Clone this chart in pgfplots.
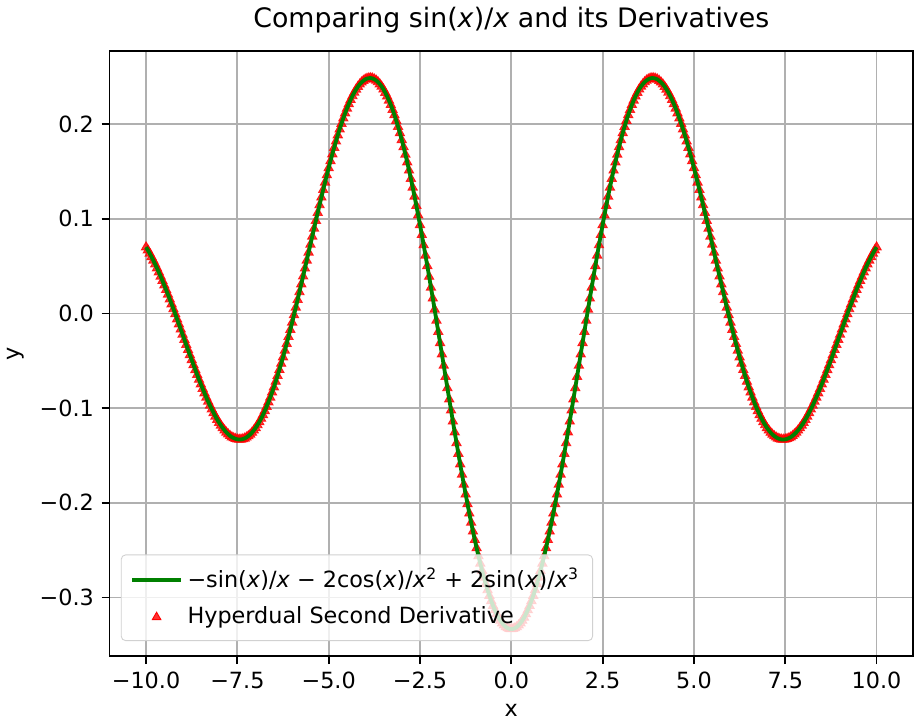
\documentclass[border=0pt]{standalone}
\usepackage{fontspec}
\setmainfont{DejaVu Sans}
\usepackage{pgfplots}
\usepackage{pgfplotstable}
\pgfplotsset{compat=1.18}
\definecolor{mplgreen}{HTML}{008000}
\definecolor{gridgray}{HTML}{B0B0B0}
\pgfplotsset{
  longline legend/.style={legend image code/.code={\draw[##1] (0pt,0pt) -- (22pt,0pt);}},
  dot legend/.style={legend image code/.code={\draw[##1] plot coordinates {(11pt,0pt)};}},
}

% second derivative of sin(x)/x, read at steps of 0.05
\pgfplotstableread{
x y
-10.00 0.0701
-9.95 0.0669
-9.90 0.0634
-9.85 0.0598
-9.80 0.0560
-9.75 0.0520
-9.70 0.0479
-9.65 0.0436
-9.60 0.0391
-9.55 0.0345
-9.50 0.0298
-9.45 0.0250
-9.40 0.0201
-9.35 0.0150
-9.30 0.0099
-9.25 0.0047
-9.20 -0.0006
-9.15 -0.0060
-9.10 -0.0113
-9.05 -0.0167
-9.00 -0.0222
-8.95 -0.0276
-8.90 -0.0330
-8.85 -0.0384
-8.80 -0.0438
-8.75 -0.0491
-8.70 -0.0544
-8.65 -0.0596
-8.60 -0.0647
-8.55 -0.0698
-8.50 -0.0747
-8.45 -0.0795
-8.40 -0.0841
-8.35 -0.0887
-8.30 -0.0930
-8.25 -0.0972
-8.20 -0.1012
-8.15 -0.1050
-8.10 -0.1087
-8.05 -0.1121
-8.00 -0.1153
-7.95 -0.1182
-7.90 -0.1209
-7.85 -0.1234
-7.80 -0.1256
-7.75 -0.1275
-7.70 -0.1292
-7.65 -0.1306
-7.60 -0.1316
-7.55 -0.1324
-7.50 -0.1329
-7.45 -0.1331
-7.40 -0.1330
-7.35 -0.1326
-7.30 -0.1319
-7.25 -0.1308
-7.20 -0.1294
-7.15 -0.1278
-7.10 -0.1258
-7.05 -0.1234
-7.00 -0.1208
-6.95 -0.1178
-6.90 -0.1146
-6.85 -0.1110
-6.80 -0.1071
-6.75 -0.1029
-6.70 -0.0985
-6.65 -0.0937
-6.60 -0.0887
-6.55 -0.0833
-6.50 -0.0778
-6.45 -0.0719
-6.40 -0.0658
-6.35 -0.0595
-6.30 -0.0529
-6.25 -0.0461
-6.20 -0.0391
-6.15 -0.0320
-6.10 -0.0246
-6.05 -0.0171
-6.00 -0.0094
-5.95 -0.0015
-5.90 0.0064
-5.85 0.0145
-5.80 0.0227
-5.75 0.0310
-5.70 0.0393
-5.65 0.0477
-5.60 0.0561
-5.55 0.0645
-5.50 0.0729
-5.45 0.0814
-5.40 0.0898
-5.35 0.0981
-5.30 0.1064
-5.25 0.1146
-5.20 0.1227
-5.15 0.1307
-5.10 0.1385
-5.05 0.1462
-5.00 0.1537
-4.95 0.1611
-4.90 0.1683
-4.85 0.1752
-4.80 0.1819
-4.75 0.1884
-4.70 0.1946
-4.65 0.2005
-4.60 0.2062
-4.55 0.2116
-4.50 0.2166
-4.45 0.2213
-4.40 0.2257
-4.35 0.2297
-4.30 0.2334
-4.25 0.2367
-4.20 0.2396
-4.15 0.2421
-4.10 0.2442
-4.05 0.2459
-4.00 0.2473
-3.95 0.2481
-3.90 0.2486
-3.85 0.2487
-3.80 0.2483
-3.75 0.2474
-3.70 0.2462
-3.65 0.2445
-3.60 0.2423
-3.55 0.2398
-3.50 0.2368
-3.45 0.2333
-3.40 0.2294
-3.35 0.2251
-3.30 0.2204
-3.25 0.2152
-3.20 0.2097
-3.15 0.2037
-3.10 0.1973
-3.05 0.1906
-3.00 0.1834
-2.95 0.1759
-2.90 0.1680
-2.85 0.1598
-2.80 0.1512
-2.75 0.1424
-2.70 0.1332
-2.65 0.1237
-2.60 0.1139
-2.55 0.1039
-2.50 0.0936
-2.45 0.0831
-2.40 0.0723
-2.35 0.0614
-2.30 0.0503
-2.25 0.0390
-2.20 0.0275
-2.15 0.0160
-2.10 0.0043
-2.05 -0.0074
-2.00 -0.0193
-1.95 -0.0311
-1.90 -0.0430
-1.85 -0.0549
-1.80 -0.0668
-1.75 -0.0787
-1.70 -0.0905
-1.65 -0.1022
-1.60 -0.1139
-1.55 -0.1254
-1.50 -0.1368
-1.45 -0.1480
-1.40 -0.1591
-1.35 -0.1700
-1.30 -0.1806
-1.25 -0.1910
-1.20 -0.2012
-1.15 -0.2111
-1.10 -0.2208
-1.05 -0.2301
-1.00 -0.2391
-0.95 -0.2478
-0.90 -0.2562
-0.85 -0.2641
-0.80 -0.2717
-0.75 -0.2789
-0.70 -0.2857
-0.65 -0.2921
-0.60 -0.2981
-0.55 -0.3036
-0.50 -0.3087
-0.45 -0.3133
-0.40 -0.3175
-0.35 -0.3212
-0.30 -0.3244
-0.25 -0.3271
-0.20 -0.3293
-0.15 -0.3311
-0.10 -0.3323
-0.05 -0.3331
0.00 -0.3333
0.05 -0.3331
0.10 -0.3323
0.15 -0.3311
0.20 -0.3293
0.25 -0.3271
0.30 -0.3244
0.35 -0.3212
0.40 -0.3175
0.45 -0.3133
0.50 -0.3087
0.55 -0.3036
0.60 -0.2981
0.65 -0.2921
0.70 -0.2857
0.75 -0.2789
0.80 -0.2717
0.85 -0.2641
0.90 -0.2562
0.95 -0.2478
1.00 -0.2391
1.05 -0.2301
1.10 -0.2208
1.15 -0.2111
1.20 -0.2012
1.25 -0.1910
1.30 -0.1806
1.35 -0.1700
1.40 -0.1591
1.45 -0.1480
1.50 -0.1368
1.55 -0.1254
1.60 -0.1139
1.65 -0.1022
1.70 -0.0905
1.75 -0.0787
1.80 -0.0668
1.85 -0.0549
1.90 -0.0430
1.95 -0.0311
2.00 -0.0193
2.05 -0.0074
2.10 0.0043
2.15 0.0160
2.20 0.0275
2.25 0.0390
2.30 0.0503
2.35 0.0614
2.40 0.0723
2.45 0.0831
2.50 0.0936
2.55 0.1039
2.60 0.1139
2.65 0.1237
2.70 0.1332
2.75 0.1424
2.80 0.1512
2.85 0.1598
2.90 0.1680
2.95 0.1759
3.00 0.1834
3.05 0.1906
3.10 0.1973
3.15 0.2037
3.20 0.2097
3.25 0.2152
3.30 0.2204
3.35 0.2251
3.40 0.2294
3.45 0.2333
3.50 0.2368
3.55 0.2398
3.60 0.2423
3.65 0.2445
3.70 0.2462
3.75 0.2474
3.80 0.2483
3.85 0.2487
3.90 0.2486
3.95 0.2481
4.00 0.2473
4.05 0.2459
4.10 0.2442
4.15 0.2421
4.20 0.2396
4.25 0.2367
4.30 0.2334
4.35 0.2297
4.40 0.2257
4.45 0.2213
4.50 0.2166
4.55 0.2116
4.60 0.2062
4.65 0.2005
4.70 0.1946
4.75 0.1884
4.80 0.1819
4.85 0.1752
4.90 0.1683
4.95 0.1611
5.00 0.1537
5.05 0.1462
5.10 0.1385
5.15 0.1307
5.20 0.1227
5.25 0.1146
5.30 0.1064
5.35 0.0981
5.40 0.0898
5.45 0.0814
5.50 0.0729
5.55 0.0645
5.60 0.0561
5.65 0.0477
5.70 0.0393
5.75 0.0310
5.80 0.0227
5.85 0.0145
5.90 0.0064
5.95 -0.0015
6.00 -0.0094
6.05 -0.0171
6.10 -0.0246
6.15 -0.0320
6.20 -0.0391
6.25 -0.0461
6.30 -0.0529
6.35 -0.0595
6.40 -0.0658
6.45 -0.0719
6.50 -0.0778
6.55 -0.0833
6.60 -0.0887
6.65 -0.0937
6.70 -0.0985
6.75 -0.1029
6.80 -0.1071
6.85 -0.1110
6.90 -0.1146
6.95 -0.1178
7.00 -0.1208
7.05 -0.1234
7.10 -0.1258
7.15 -0.1278
7.20 -0.1294
7.25 -0.1308
7.30 -0.1319
7.35 -0.1326
7.40 -0.1330
7.45 -0.1331
7.50 -0.1329
7.55 -0.1324
7.60 -0.1316
7.65 -0.1306
7.70 -0.1292
7.75 -0.1275
7.80 -0.1256
7.85 -0.1234
7.90 -0.1209
7.95 -0.1182
8.00 -0.1153
8.05 -0.1121
8.10 -0.1087
8.15 -0.1050
8.20 -0.1012
8.25 -0.0972
8.30 -0.0930
8.35 -0.0887
8.40 -0.0841
8.45 -0.0795
8.50 -0.0747
8.55 -0.0698
8.60 -0.0647
8.65 -0.0596
8.70 -0.0544
8.75 -0.0491
8.80 -0.0438
8.85 -0.0384
8.90 -0.0330
8.95 -0.0276
9.00 -0.0222
9.05 -0.0167
9.10 -0.0113
9.15 -0.0060
9.20 -0.0006
9.25 0.0047
9.30 0.0099
9.35 0.0150
9.40 0.0201
9.45 0.0250
9.50 0.0298
9.55 0.0345
9.60 0.0391
9.65 0.0436
9.70 0.0479
9.75 0.0520
9.80 0.0560
9.85 0.0598
9.90 0.0634
9.95 0.0669
10.00 0.0701
}\dsecond

\begin{document}
\begin{tikzpicture}
  \begin{axis}[
      scale only axis, width=360pt, height=271pt,
      xmin=-11, xmax=11, ymin=-0.362, ymax=0.277,
      clip marker paths=true,
      xtick={-10,-7.5,-5,-2.5,0,2.5,5,7.5,10},
      xticklabels={−10.0,−7.5,−5.0,−2.5,0.0,2.5,5.0,7.5,10.0},
      ytick={-0.3,-0.2,-0.1,0,0.1,0.2},
      yticklabels={−0.3,−0.2,−0.1,0.0,0.1,0.2},
      tick align=outside, major tick length=3.5pt,
      tick style={black, line width=0.8pt},
      xtick pos=bottom, ytick pos=left,
      grid=major, grid style={gridgray, line width=0.8pt},
      axis line style={line width=0.8pt},
      tick label style={font=\fontsize{10}{12}\selectfont},
      xlabel={x}, ylabel={y},
      label style={font=\fontsize{10}{12}\selectfont},
      title={Comparing sin(\textit{x})/\textit{x} and its Derivatives},
      title style={font=\fontsize{12}{14}\selectfont, yshift=-1.5pt},
      legend cell align=left,
      legend style={at={(0.014,0.025)}, anchor=south west,
        font=\fontsize{10}{12}\selectfont,
        fill=white, fill opacity=0.8, draw opacity=1, text opacity=1,
        draw=black!18, rounded corners=2pt, row sep=3pt,
        inner xsep=4pt, inner ysep=4pt},
    ]
    % markers first so the line sits on top, as in the reference
    \addplot[only marks, mark=triangle*, mark size=2.4pt, red, opacity=0.8, forget plot] table[x=x, y=y] {\dsecond};
    \addplot[mplgreen, line width=1.7pt, longline legend] table[x=x, y=y] {\dsecond};
    \addlegendentry{−sin(\textit{x})/\textit{x} − 2cos(\textit{x})/\textit{x}\textsuperscript{2} + 2sin(\textit{x})/\textit{x}\textsuperscript{3}}
    \addlegendimage{only marks, mark=triangle*, mark size=2.2pt, red, dot legend}
    \addlegendentry{Hyperdual Second Derivative}
  \end{axis}
\end{tikzpicture}
\end{document}
